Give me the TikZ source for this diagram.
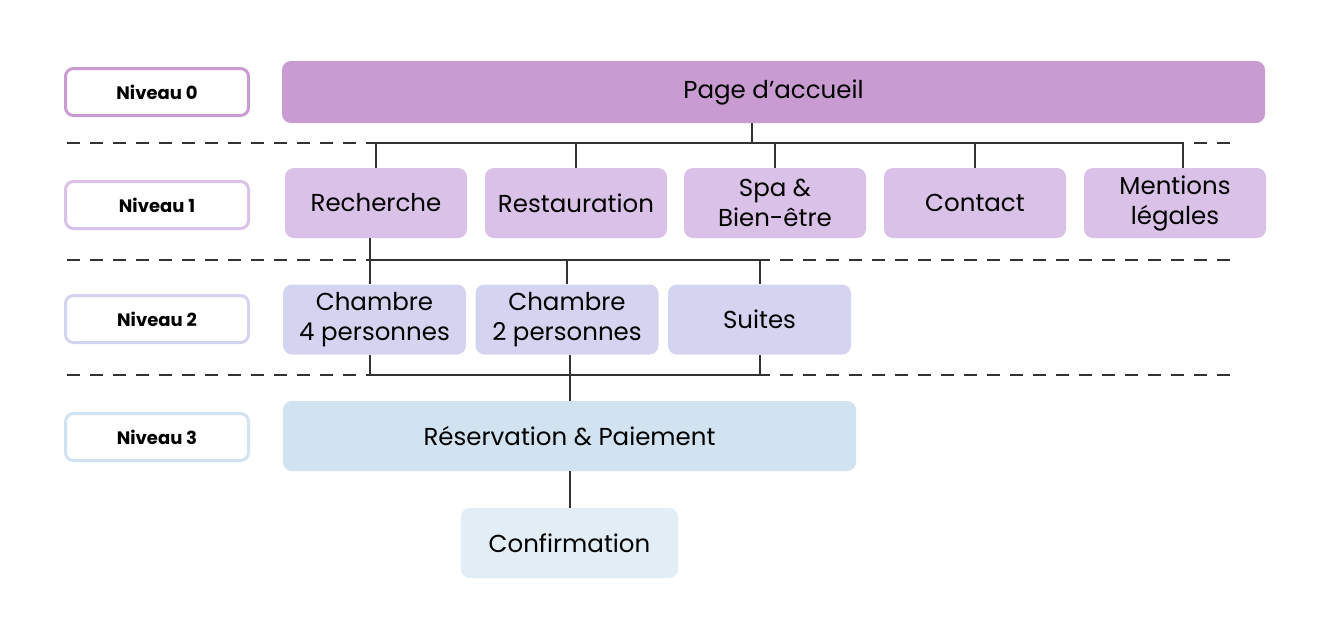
\documentclass[tikz,border=0pt]{standalone}
\usepackage{fontspec}
\setmainfont{Poppins}
\usetikzlibrary{calc}

\definecolor{lvlA}{HTML}{C89BD1}
\definecolor{lvlB}{HTML}{D9C1E7}
\definecolor{lvlC}{HTML}{D4D4F0}
\definecolor{lvlD}{HTML}{D1E2F0}
\definecolor{lvlE}{HTML}{E2EDF5}
\definecolor{ink}{HTML}{333333}

\begin{document}
\begin{tikzpicture}[x=1pt, y=-1pt,
    tag/.style={draw, line width=3pt, fill=white, rounded corners=8pt, minimum width=183pt, minimum height=47pt, inner sep=0pt, font=\fontsize{18}{21}\selectfont\bfseries},
    page/.style={fill=#1, rounded corners=9pt, inner sep=0pt, align=center, font=\fontsize{24.5}{30}\selectfont},
    link/.style={draw=ink, line width=2pt},
    sep/.style={draw=ink, line width=2pt, dash pattern=on 13pt off 10pt}]

    % Canvas
    \fill[white] (0,0) rectangle (1334,638);
    \useasboundingbox (0,0) rectangle (1334,638);

    % Separators
    \draw[sep] (67,143) -- (1232,143);
    \draw[sep] (67,260) -- (1232,260);
    \draw[sep] (67,375) -- (1232,375);

    % Levels
    \node[tag, draw=lvlA] (niv0) at (157,92) {Niveau 0};
    \node[tag, draw=lvlB] (niv1) at (157,205) {Niveau 1};
    \node[tag, draw=lvlC] (niv2) at (157,319) {Niveau 2};
    \node[tag, draw=lvlD] (niv3) at (157,437) {Niveau 3};

    % Level 0
    \node[page=lvlA, minimum width=983pt, minimum height=62pt] (home) at (773.5,92) {Page d’accueil};

    % Level 1
    \node[page=lvlB, minimum width=182pt, minimum height=70pt] (rech) at (376,203) {Recherche};
    \node[page=lvlB, minimum width=182pt, minimum height=70pt] (resto) at (576,203) {Restauration};
    \node[page=lvlB, minimum width=182pt, minimum height=70pt] (spa) at (775,203) {Spa \&\\Bien-être};
    \node[page=lvlB, minimum width=182pt, minimum height=70pt] (contact) at (975,203) {Contact};
    \node[page=lvlB, minimum width=182pt, minimum height=70pt] (legal) at (1175,203) {Mentions\\légales};

    % Level 2
    \node[page=lvlC, minimum width=183pt, minimum height=70pt] (ch4) at (374.5,319.5) {Chambre\\4 personnes};
    \node[page=lvlC, minimum width=183pt, minimum height=70pt] (ch2) at (567,319.5) {Chambre\\2 personnes};
    \node[page=lvlC, minimum width=183pt, minimum height=70pt] (suites) at (759.5,319.5) {Suites};

    % Level 3
    \node[page=lvlD, minimum width=573pt, minimum height=70pt] (resa) at (569.5,436) {Réservation \& Paiement};
    \node[page=lvlE, minimum width=217pt, minimum height=70pt] (conf) at (569.5,543) {Confirmation};

    % Links
    \coordinate (busA) at (752,143);
    \coordinate (busB) at (370,260);
    \coordinate (busC) at (570,375);

    \draw[link] (home.south -| busA) -- (busA);
    \draw[link] (rech.north) |- ([xshift=8pt]busA -| legal.north) -- ([xshift=8pt]legal.north);
    \foreach \n in {resto, spa, contact}
        \draw[link] (\n.north) -- (\n.north |- busA);

    \draw[link] (rech.south -| busB) -- (ch4.north -| busB);
    \draw[link] (busB) -| (suites.north);
    \draw[link] (ch2.north) -- (ch2.north |- busB);

    \draw[link] (ch4.south -| busB) |- (busC) -| (suites.south);
    \draw[link] (ch2.south -| busC) -- (resa.north -| busC);
    \draw[link] (resa.south -| busC) -- (conf.north -| busC);

\end{tikzpicture}
\end{document}
